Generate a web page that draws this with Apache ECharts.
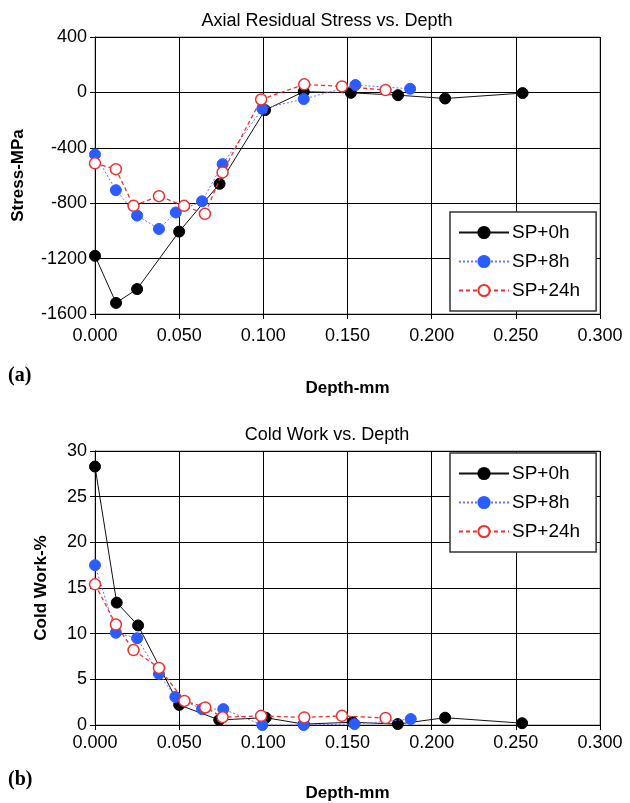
<!DOCTYPE html>
<html><head><meta charset="utf-8">
<script src="https://cdn.jsdelivr.net/npm/echarts@6/dist/echarts.min.js"></script>
<style>html,body{margin:0;padding:0;background:#fff}#c{width:630px;height:803px}</style>
</head><body><div id="c"></div>
<script>
// ---- Data (a) Axial residual stress ----
const seriesNames = ['SP+0h', 'SP+8h', 'SP+24h'];
const stressDepth0 = [0, 0.0125, 0.025, 0.05, 0.074, 0.101, 0.124, 0.152, 0.180, 0.208, 0.254];
const stressVal0   = [-1180, -1520, -1420, -1005, -660, -128, 5, -3, -20, -44, -5];
const stressDepth8 = [0, 0.0124, 0.025, 0.038, 0.048, 0.0636, 0.0758, 0.0994, 0.124, 0.1547, 0.1872];
const stressVal8   = [-448, -706, -889, -986, -867, -786, -518, -118, -48, 53, 26];
const stressDepth24 = [0, 0.0124, 0.0229, 0.038, 0.0529, 0.0653, 0.0758, 0.0987, 0.1243, 0.1467, 0.1726];
const stressVal24   = [-512, -554, -819, -749, -819, -877, -578, -51, 58, 43, 17];
// ---- Data (b) Cold work ----
const cwDepth0 = [0, 0.0129, 0.0256, 0.05, 0.0738, 0.1014, 0.124, 0.153, 0.1799, 0.208, 0.2537];
const cwVal0   = [28.3, 13.4, 10.9, 2.2, 0.55, 0.8, 0.1, 0.3, 0.1, 0.8, 0.2];
const cwDepth8 = [0, 0.0124, 0.025, 0.038, 0.0477, 0.0636, 0.0762, 0.0994, 0.124, 0.1542, 0.1876];
const cwVal8   = [17.5, 10.1, 9.5, 5.6, 3.07, 1.74, 1.74, 0, 0, 0.1, 0.65];
const cwDepth24 = [0, 0.0124, 0.0229, 0.038, 0.0531, 0.0655, 0.0758, 0.0987, 0.1243, 0.1467, 0.1726];
const cwVal24   = [15.4, 11.0, 8.2, 6.25, 2.64, 1.92, 0.85, 1.0, 0.83, 1.0, 0.76];

const titles = ['Axial Residual Stress vs. Depth', 'Cold Work vs. Depth'];
const xName = 'Depth-mm';
const yNames = ['Stress-MPa', 'Cold Work-%'];

const zip = (a, b) => a.map((v, i) => [v, b[i]]);
const FONT = 'Liberation Sans, Arial, sans-serif';

const styles = [
  {lineStyle:{color:'#111', width:1, type:'solid'}, itemStyle:{color:'#000', borderColor:'#000', borderWidth:1}, symbolSize:11},
  {lineStyle:{color:'#7070ff', width:1, type:[2,2]}, itemStyle:{color:'#2a5cff', borderColor:'#2a5cff', borderWidth:1}, symbolSize:11},
  {lineStyle:{color:'#ee3030', width:1.3, type:[4,3]}, itemStyle:{color:'#fff', borderColor:'#ee3030', borderWidth:1.5}, symbolSize:11}
];

const stressData = [zip(stressDepth0, stressVal0), zip(stressDepth8, stressVal8), zip(stressDepth24, stressVal24)];
const cwData = [zip(cwDepth0, cwVal0), zip(cwDepth8, cwVal8), zip(cwDepth24, cwVal24)];

const series = [];
[stressData, cwData].forEach((set, g) => {
  set.forEach((d, i) => {
    series.push(Object.assign({
      name: seriesNames[i], type: 'line', xAxisIndex: g, yAxisIndex: g,
      data: d, symbol: 'circle', showSymbol: true, animation: false, z: 2 + i
    }, JSON.parse(JSON.stringify(styles[i]))));
  });
});

const GL = 95, GW = 505, GH = 277;
const gridTops = [37, 451];
const xAxisBase = (i, margin, gap) => ({
  type: 'value', gridIndex: i, min: 0, max: 0.3, interval: 0.05,
  name: xName, nameLocation: 'middle', nameGap: gap,
  nameTextStyle: {fontFamily: FONT, fontSize: 17, fontWeight: 'bold', color: '#000'},
  axisLine: {show: true, onZero: false, lineStyle: {color: '#000', width: 1}},
  axisTick: {show: true, length: 5, lineStyle: {color: '#000'}},
  axisLabel: {fontFamily: FONT, fontSize: 18, color: '#000', margin: margin, formatter: v => v.toFixed(3)},
  splitLine: {show: true, lineStyle: {color: '#000', width: 1}}
});
const yAxisBase = (i, min, max, interval, gap) => ({
  type: 'value', gridIndex: i, min: min, max: max, interval: interval,
  name: yNames[i], nameLocation: 'middle', nameGap: gap,
  nameTextStyle: {fontFamily: FONT, fontSize: 17, fontWeight: 'bold', color: '#000'},
  axisLine: {show: true, onZero: false, lineStyle: {color: '#000'}},
  axisTick: {show: true, length: 5, lineStyle: {color: '#000'}},
  axisLabel: {fontFamily: FONT, fontSize: 18, color: '#000', margin: 8, formatter: v => String(v)},
  splitLine: {show: true, lineStyle: {color: '#000', width: 1}}
});

const option = {
  backgroundColor: '#fff',
  animation: false,
  title: titles.map((t, i) => ({
    text: t, left: 322, top: gridTops[i] - 30, textAlign: 'center',
    textStyle: {fontFamily: FONT, fontSize: 18, fontWeight: 'normal', color: '#000'}
  })),
  grid: gridTops.map(t => ({left: GL, top: t, width: GW, height: GH, show: true, borderColor: '#888', borderWidth: 1, backgroundColor: 'transparent'})),
  xAxis: [xAxisBase(0, 13, 66), xAxisBase(1, 9, 60)],
  yAxis: [yAxisBase(0, -1600, 400, 400, 68), yAxisBase(1, 0, 30, 5, 45)],
  legend: [212, 453].map(t => ({
    data: seriesNames, orient: 'vertical', left: 450, top: t,
    backgroundColor: '#fff', borderColor: '#333', borderWidth: 1.5, borderRadius: 0,
    padding: [11, 16, 11, 8], itemGap: 10, itemWidth: 50, itemHeight: 14,
    textStyle: {fontFamily: FONT, fontSize: 19, color: '#000', padding: [0, 0, 0, -2]},
    selectedMode: false
  })),
  graphic: [
    {type: 'text', left: 8, top: 366, style: {text: '(a)', font: 'bold 20px "Liberation Serif", serif', fill: '#000'}},
    {type: 'text', left: 8, top: 770, style: {text: '(b)', font: 'bold 20px "Liberation Serif", serif', fill: '#000'}}
  ],
  series: series
};

const chart = echarts.init(document.getElementById('c'), null, {renderer: 'canvas'});
chart.setOption(option);
</script>
</body></html>
